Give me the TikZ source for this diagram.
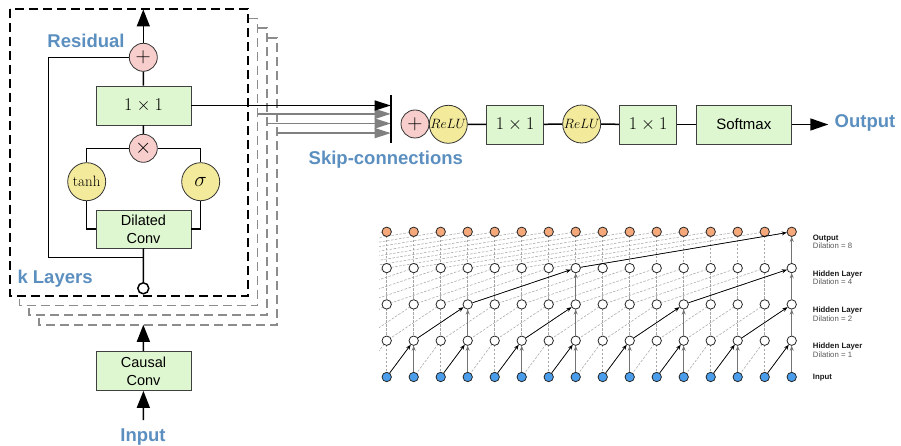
\documentclass[tikz,border=0pt]{standalone}
\usepackage{fix-cm}
\usepackage{fontspec}
\newfontfamily\hv{Liberation Sans}
\usetikzlibrary{arrows.meta}
\definecolor{boxgreen}{HTML}{DFF7D0}
\definecolor{opink}{HTML}{F8CECC}
\definecolor{gyellow}{HTML}{F4EA9B}
\definecolor{lblblue}{HTML}{5B8FC0}
\definecolor{outorange}{HTML}{F5A97B}
\definecolor{inblue}{HTML}{4A9DEB}
\tikzset{
  wire/.style={line width=1.5pt, draw=black},
  bigtip/.style={-{Triangle[length=17pt,width=13pt]}},
  skiptip/.style={-{Triangle[length=16pt,width=10pt]}},
  opbox/.style={draw=black!75, fill=boxgreen, line width=0.8pt, minimum width=95pt,
    minimum height=39pt, inner sep=0pt, align=center,
    font=\hv\fontsize{14.5}{18}\selectfont},
  mathbox/.style={opbox, font=\fontsize{18}{20}\selectfont},
  opcirc/.style={circle, draw=black!80, fill=opink, line width=0.8pt, minimum size=28pt,
    inner sep=0pt, font=\fontsize{21}{22}\selectfont},
  actcirc/.style={circle, draw=black!80, fill=gyellow, line width=0.8pt, minimum size=38pt,
    inner sep=0pt},
  portcirc/.style={circle, draw=black, fill=white, line width=1.5pt, minimum size=11pt, inner sep=0pt},
  layerbox/.style={line width=1.6pt, dash pattern=on 9pt off 5pt, fill=white},
  bluelbl/.style={text=lblblue, font=\hv\bfseries\fontsize{18.5}{20}\selectfont, inner sep=0pt},
  dnode/.style={circle, draw=black!85, line width=0.8pt, minimum size=9.4pt, inner sep=0pt},
  dashline/.style={draw=gray!70, line width=0.55pt, dash pattern=on 2.5pt off 1.5pt},
  vertarrow/.style={-{Stealth[length=5pt,width=4pt]}, line width=1.1pt, draw=black!55, fill=black!55},
  diagarrow/.style={-{Stealth[length=5pt,width=4pt]}, line width=0.7pt, draw=black, fill=black},
  rowlbl/.style={anchor=west, align=left, inner sep=0pt, text=black!65,
    font=\hv\fontsize{7.8}{8.7}\selectfont},
}
\begin{document}
\begin{tikzpicture}[x=1pt, y=-1pt]
\useasboundingbox (0,0) rectangle (901,446);

% ---- stacked residual layers (back to front) ----
\foreach \k in {3,2,1} {
  \draw[layerbox, draw=black!45] ({10+9.6*\k},{9+9.6*\k}) rectangle ({248+9.6*\k},{296+9.6*\k});
}
\draw[layerbox, draw=black] (10,9) rectangle (248,296);

% ---- residual block ----
\node[opcirc] (add) at (143.3,57.3) {$+$};
\node[mathbox] (res1) at (143.5,105.5) {$1\times1$};
\node[opcirc] (mul) at (143.3,148.3) {$\times$};
\node[actcirc, font=\fontsize{15}{16}\selectfont] (tanh) at (86.7,181.7) {$\tanh$};
\node[actcirc, font=\fontsize{21}{22}\selectfont] (sig) at (200.7,181.7) {$\sigma$};
\node[opbox, minimum height=38pt] (dil) at (143.5,229) {Dilated\\Conv};
\node[portcirc] (port) at (143.3,288.3) {};
\coordinate (top) at (143.3,9.5);
\coordinate (rj) at (143.3,257.3);
\coordinate (rl) at (48.3,257.3);

\draw[wire] (dil.south) -- (port.north);
\draw[wire] (add.west) -| (rl) -- (rj);
\draw[wire] (mul.west) -| (tanh.north);
\draw[wire] (mul.east) -| (sig.north);
\draw[wire] (tanh.south) |- (dil.west);
\draw[wire] (sig.south) |- (dil.east);
\draw[wire] (mul) -- (res1);
\draw[wire] (res1) -- (add);
\draw[wire, bigtip, fill=black] (add) -- (top);

\node[bluelbl] (reslbl) at (86,40.7) {Residual};
\node[bluelbl, anchor=west] (klbl) at (17.3,278.3) {k Layers};

% ---- input path ----
\node[opbox] (causal) at (143.5,371) {Causal\\Conv};
\coordinate (instart) at (143.3,420);
\coordinate (stacktop) at (143.3,324.8);
\draw[wire, bigtip, fill=black] (causal) -- (stacktop);
\draw[wire, bigtip, fill=black] (instart) -- (causal);
\node[bluelbl] (inlbl) at (143,436.7) {Input};

% ---- skip connections ----
\coordinate (barT) at (390.7,95);
\coordinate (barB) at (390.7,143);
\foreach \k in {3,2,1} {
  \coordinate (sk\k) at ({248+9.6*\k},{104.3+9.6*\k});
  \draw[line width=1.5pt, draw=black!50, fill=black!50, skiptip] (sk\k) -- (sk\k -| barT);
}
\draw[wire, skiptip, fill=black] (res1.east) -- (res1.east -| barT);
\draw[line width=1.8pt] (barT) -- (barB);
\node[bluelbl] (skiplbl) at (385.8,160) {Skip-connections};

% ---- output head ----
\node[opcirc] (sum) at (415,124) {$+$};
\node[actcirc, font=\fontsize{13.5}{14}\selectfont] (relu1) at (448.3,124.3) {$ReLU$};
\node[mathbox, minimum width=56.7pt] (c1) at (515,124.5) {$1\times1$};
\node[actcirc, font=\fontsize{13.5}{14}\selectfont] (relu2) at (581.7,124) {$ReLU$};
\node[mathbox, minimum width=57.3pt] (c2) at (648,124.5) {$1\times1$};
\node[opbox, minimum width=95.7pt, font=\hv\fontsize{15}{18}\selectfont] (soft) at (743.8,124.5) {Softmax};
\coordinate (outtip) at (828.3,124.5);
\draw[wire] (relu1) -- (c1);
\draw[wire] (c1) -- (relu2);
\draw[wire] (relu2) -- (c2);
\draw[wire] (c2) -- (soft);
\draw[wire, fill=black, -{Triangle[length=18pt,width=12pt]}] (soft) -- (outtip);
\node[bluelbl, anchor=west] (outlbl) at (834.5,123.3) {Output};

% ---- dilated causal convolution stack ----
\foreach \r in {0,...,4} {
  \foreach \j in {0,...,23} {
    \coordinate (p\r-\j) at ({386.7+27*(\j-8)},{377-36.3*\r});
  }
}
\begin{scope}
  \clip (379,215) rectangle (801,385);
  \foreach \r in {1,...,4} {
    \pgfmathtruncatemacro\q{\r-1}
    \pgfmathtruncatemacro\d{2^(\r-1)}
    \foreach \j in {8,...,23} {
      \pgfmathtruncatemacro\k{\j-\d}
      \draw[dashline] (p\r-\j) -- (p\q-\j);
      \draw[dashline] (p\r-\j) -- (p\q-\k);
    }
  }
\end{scope}
\foreach \r/\fc in {0/inblue,1/white,2/white,3/white,4/outorange} {
  \foreach \i in {0,...,15} {
    \pgfmathtruncatemacro\j{\i+8}
    \node[dnode, fill=\fc] (n\r-\i) at (p\r-\j) {};
  }
}
\foreach \r/\i/\d in {1/1/1,1/3/1,1/5/1,1/7/1,1/9/1,1/11/1,1/13/1,1/15/1,
                      2/3/2,2/7/2,2/11/2,2/15/2,3/7/4,3/15/4,4/15/8} {
  \pgfmathtruncatemacro\q{\r-1}
  \pgfmathtruncatemacro\k{\i-\d}
  \draw[vertarrow] (n\q-\i) -- (n\r-\i);
  \draw[diagarrow] (n\q-\k) -- (n\r-\i);
}
\node[rowlbl] (l4) at (812.7,241.7) {\textcolor{black!90}{\bfseries Output}\\Dilation = 8};
\node[rowlbl] (l3) at (812.7,277.7) {\textcolor{black!90}{\bfseries Hidden Layer}\\Dilation = 4};
\node[rowlbl] (l2) at (812.7,313.9) {\textcolor{black!90}{\bfseries Hidden Layer}\\Dilation = 2};
\node[rowlbl] (l1) at (812.7,350.0) {\textcolor{black!90}{\bfseries Hidden Layer}\\Dilation = 1};
\node[rowlbl] (l0) at (812.7,377.3) {\textcolor{black!90}{\bfseries Input}};
\end{tikzpicture}
\end{document}
